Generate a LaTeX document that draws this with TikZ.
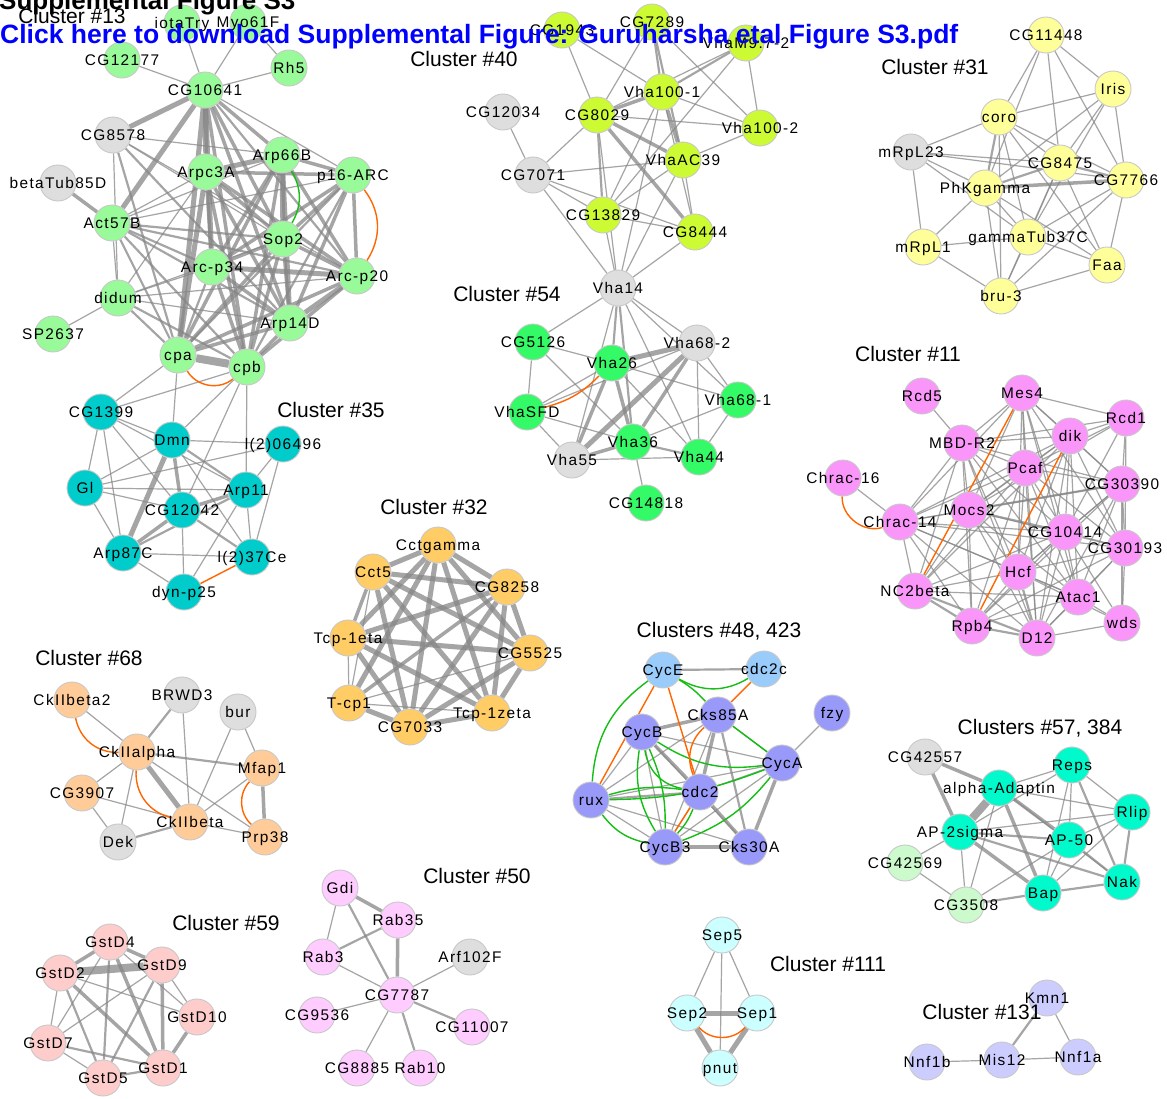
\documentclass[tikz,border=0pt]{standalone}
\usepackage{fontspec}
\setmainfont{Liberation Sans}
\newfontfamily\lbfam[LetterSpace=9]{Liberation Sans}
\newcommand\lbf{\lbfam\fontsize{15.4}{15.4}\selectfont}
\newcommand\ttf{\fontsize{21}{21}\selectfont}
\pgfdeclarelayer{bg}
\pgfsetlayers{bg,main}
\definecolor{cA}{RGB}{153,250,153}
\definecolor{gr}{RGB}{222,222,222}
\definecolor{cB}{RGB}{204,250,51}
\definecolor{cC}{RGB}{255,255,153}
\definecolor{cD}{RGB}{51,250,102}
\definecolor{cE}{RGB}{250,150,250}
\definecolor{cF}{RGB}{0,204,204}
\definecolor{cG}{RGB}{255,204,102}
\definecolor{cH}{RGB}{255,204,153}
\definecolor{cI}{RGB}{153,153,250}
\definecolor{cJ}{RGB}{153,204,250}
\definecolor{cK}{RGB}{0,250,204}
\definecolor{cL}{RGB}{204,250,204}
\definecolor{cM}{RGB}{255,204,204}
\definecolor{cN}{RGB}{255,204,255}
\definecolor{cO}{RGB}{204,255,255}
\definecolor{cP}{RGB}{204,204,255}
\definecolor{ec}{RGB}{135,135,135}
\definecolor{bd}{RGB}{200,200,200}
\definecolor{ogc}{RGB}{255,102,0}
\definecolor{gnc}{RGB}{20,190,20}
\tikzset{
  nd/.style={circle, draw=bd, line width=0.9pt, minimum size=36pt, inner sep=0pt},
  lb/.style={font=\lbf, anchor=base, inner sep=0pt, text=black},
  ttl/.style={font=\ttf, anchor=base, inner sep=0pt},
  e1/.style={draw=ec, line width=1.2pt, draw opacity=0.75},
  e2/.style={draw=ec, line width=2.2pt, draw opacity=0.75},
  e3/.style={draw=ec, line width=3.5pt, draw opacity=0.75},
  e4/.style={draw=ec, line width=5pt, draw opacity=0.75},
  e5/.style={draw=ec, line width=8pt, draw opacity=0.75},
  og/.style={draw=ogc, line width=1.4pt},
  gn/.style={draw=gnc, line width=1.4pt}
}
\makeatletter
\newcommand\lablist{}
\newcommand\GN[4]{\node[nd,fill=#3] (#1) at (#2) {};\g@addto@macro\lablist{\node[lb] at ([yshift=-5.5pt]#1) {#4};}}
\makeatother
\newcommand\EE[2]{\foreach \pa/\pb in {#2}{\draw[#1] (\pa) -- (\pb);}}
\begin{document}
\begin{tikzpicture}[x=1pt,y=1pt]
\useasboundingbox (0,0) rectangle (1167,-1098);
% ---------- Cluster 13
\GN{iota}{182,-23}{cA}{iotaTry}
\GN{myo}{248,-22}{cA}{Myo61F}
\GN{c12177}{122,-60}{cA}{CG12177}
\GN{rh5}{289,-68}{cA}{Rh5}
\GN{c10641}{205,-90}{cA}{CG10641}
\GN{c8578}{113,-135}{gr}{CG8578}
\GN{btub}{58,-183}{gr}{betaTub85D}
\GN{arpc3a}{206,-172}{cA}{Arpc3A}
\GN{arp66b}{282,-155}{cA}{Arp66B}
\GN{p16}{353,-175}{cA}{p16-ARC}
\GN{act57b}{112,-223}{cA}{Act57B}
\GN{sop2}{283,-239}{cA}{Sop2}
\GN{p34}{212,-267}{cA}{Arc-p34}
\GN{p20}{357,-276}{cA}{Arc-p20}
\GN{didum}{118,-298}{cA}{didum}
\GN{arp14d}{290,-323}{cA}{Arp14D}
\GN{sp2637}{53,-334}{cA}{SP2637}
\GN{cpa}{178,-355}{cA}{cpa}
\GN{cpb}{247,-367}{cA}{cpb}
% ---------- Cluster 35
\GN{c1399}{101,-412}{cF}{CG1399}
\GN{dmn}{172,-440}{cF}{Dmn}
\GN{l206496}{283,-444}{cF}{l(2)06496}
\GN{gl}{85,-488}{cF}{Gl}
\GN{arp11}{246,-490}{cF}{Arp11}
\GN{c12042}{182,-510}{cF}{CG12042}
\GN{arp87c}{123,-553}{cF}{Arp87C}
\GN{l237ce}{252,-557}{cF}{l(2)37Ce}
\GN{dynp25}{184,-592}{cF}{dyn-p25}
% ---------- Cluster 40
\GN{c1943}{562,-30}{cB}{CG1943}
\GN{c7289}{652,-22}{cB}{CG7289}
\GN{vham}{746,-43}{cB}{VhaM9.7-2}
\GN{v1001}{662,-92}{cB}{Vha100-1}
\GN{c12034}{503,-112}{gr}{CG12034}
\GN{c8029}{597,-115}{cB}{CG8029}
\GN{v1002}{760,-128}{cB}{Vha100-2}
\GN{vac39}{683,-160}{cB}{VhaAC39}
\GN{c7071}{533,-175}{gr}{CG7071}
\GN{c13829}{603,-215}{cB}{CG13829}
\GN{c8444}{695,-232}{cB}{CG8444}
% ---------- Cluster 54
\GN{vha14}{618,-288}{gr}{Vha14}
\GN{c5126}{533,-342}{cD}{CG5126}
\GN{vha26}{612,-363}{cD}{Vha26}
\GN{vha682}{697,-343}{gr}{Vha68-2}
\GN{vsfd}{527,-412}{cD}{VhaSFD}
\GN{vha681}{738,-400}{cD}{Vha68-1}
\GN{vha36}{633,-442}{cD}{Vha36}
\GN{vha55}{572,-460}{gr}{Vha55}
\GN{vha44}{699,-457}{cD}{Vha44}
\GN{c14818}{646,-503}{cD}{CG14818}
% ---------- Cluster 31
\GN{c11448}{1046,-35}{cC}{CG11448}
\GN{iris}{1113,-89}{cC}{Iris}
\GN{coro}{999,-117}{cC}{coro}
\GN{mrpl23}{911,-152}{gr}{mRpL23}
\GN{c8475}{1060,-163}{cC}{CG8475}
\GN{c7766}{1126,-180}{cC}{CG7766}
\GN{phk}{985,-188}{cC}{PhKgamma}
\GN{gtub}{1028,-237}{cC}{gammaTub37C}
\GN{mrpl1}{923,-247}{cC}{mRpL1}
\GN{faa}{1107,-265}{cC}{Faa}
\GN{bru3}{1001,-296}{cC}{bru-3}
% ---------- Cluster 11
\GN{rcd5}{922,-396}{cE}{Rcd5}
\GN{mes4}{1022,-393}{cE}{Mes4}
\GN{rcd1}{1126,-418}{cE}{Rcd1}
\GN{mbdr2}{962,-443}{cE}{MBD-R2}
\GN{dik}{1070,-436}{cE}{dik}
\GN{pcaf}{1025,-468}{cE}{Pcaf}
\GN{chr16}{843,-478}{cE}{Chrac-16}
\GN{c30390}{1122,-484}{cE}{CG30390}
\GN{chr14}{900,-522}{cE}{Chrac-14}
\GN{mocs2}{969,-510}{cE}{Mocs2}
\GN{c10414}{1065,-532}{cE}{CG10414}
\GN{c30193}{1125,-548}{cE}{CG30193}
\GN{hcf}{1018,-572}{cE}{Hcf}
\GN{nc2b}{915,-591}{cE}{NC2beta}
\GN{atac1}{1078,-597}{cE}{Atac1}
\GN{rpb4}{972,-626}{cE}{Rpb4}
\GN{wds}{1122,-623}{cE}{wds}
\GN{d12}{1037,-638}{cE}{D12}
% ---------- Cluster 32
\GN{cctg}{438,-545}{cG}{Cctgamma}
\GN{cct5}{373,-572}{cG}{Cct5}
\GN{c8258}{507,-587}{cG}{CG8258}
\GN{tcpeta}{348,-638}{cG}{Tcp-1eta}
\GN{c5525}{530,-653}{cG}{CG5525}
\GN{tcp1}{349,-703}{cG}{T-cp1}
\GN{tcpz}{492,-713}{cG}{Tcp-1zeta}
\GN{c7033}{410,-727}{cG}{CG7033}
% ---------- Cluster 68
\GN{ckb2}{72,-700}{cH}{CkIIbeta2}
\GN{brwd3}{182,-695}{gr}{BRWD3}
\GN{bur}{238,-712}{gr}{bur}
\GN{cka}{137,-752}{cH}{CkIIalpha}
\GN{mfap1}{262,-768}{cH}{Mfap1}
\GN{c3907}{82,-793}{cH}{CG3907}
\GN{ckb}{190,-822}{cH}{CkIIbeta}
\GN{dek}{118,-842}{gr}{Dek}
\GN{prp38}{265,-837}{cH}{Prp38}
% ---------- Clusters 48, 423
\GN{cyce}{663,-670}{cJ}{CycE}
\GN{cdc2c}{764,-669}{cJ}{cdc2c}
\GN{fzy}{832,-713}{cI}{fzy}
\GN{cks85a}{718,-715}{cI}{Cks85A}
\GN{cycb}{642,-732}{cI}{CycB}
\GN{cyca}{782,-763}{cI}{CycA}
\GN{rux}{591,-800}{cI}{rux}
\GN{cdc2}{700,-792}{cI}{cdc2}
\GN{cycb3}{665,-847}{cI}{CycB3}
\GN{cks30a}{749,-847}{cI}{Cks30A}
% ---------- Clusters 57, 384
\GN{c42557}{925,-757}{gr}{CG42557}
\GN{reps}{1072,-765}{cK}{Reps}
\GN{aad}{999,-788}{cK}{alpha-Adaptin}
\GN{rlip}{1132,-812}{cK}{Rlip}
\GN{ap2s}{960,-832}{cK}{AP-2sigma}
\GN{ap50}{1069,-840}{cK}{AP-50}
\GN{c42569}{905,-863}{cL}{CG42569}
\GN{nak}{1122,-882}{cK}{Nak}
\GN{bap}{1043,-893}{cK}{Bap}
\GN{c3508}{966,-905}{cL}{CG3508}
% ---------- Cluster 59
\GN{d4}{110,-942}{cM}{GstD4}
\GN{d2}{60,-973}{cM}{GstD2}
\GN{d9}{162,-965}{cM}{GstD9}
\GN{d10}{197,-1017}{cM}{GstD10}
\GN{d7}{48,-1043}{cM}{GstD7}
\GN{d1}{163,-1068}{cM}{GstD1}
\GN{d5}{103,-1078}{cM}{GstD5}
% ---------- Cluster 50
\GN{gdi}{340,-888}{cN}{Gdi}
\GN{rab35}{398,-920}{cN}{Rab35}
\GN{rab3}{323,-957}{cN}{Rab3}
\GN{arf}{470,-957}{gr}{Arf102F}
\GN{c7787}{397,-995}{cN}{CG7787}
\GN{c9536}{317,-1015}{cN}{CG9536}
\GN{c11007}{472,-1027}{cN}{CG11007}
\GN{c8885}{357,-1068}{cN}{CG8885}
\GN{rab10}{420,-1068}{cN}{Rab10}
% ---------- Cluster 111
\GN{sep5}{722,-935}{cO}{Sep5}
\GN{sep2}{687,-1013}{cO}{Sep2}
\GN{sep1}{757,-1013}{cO}{Sep1}
\GN{pnut}{720,-1068}{cO}{pnut}
% ---------- Cluster 131
\GN{kmn1}{1047,-998}{cP}{Kmn1}
\GN{nnf1b}{927,-1062}{cP}{Nnf1b}
\GN{mis12}{1002,-1060}{cP}{Mis12}
\GN{nnf1a}{1078,-1057}{cP}{Nnf1a}
% ================= edges
\begin{pgfonlayer}{bg}
\fill[white] (0,0) rectangle (1167,-1098);
% cluster 13
\EE{e1}{iota/c10641,myo/c10641,myo/rh5,c12177/c10641,rh5/c10641,c10641/p16,didum/sp2637,c8578/arp66b,c8578/sop2,c8578/didum,c8578/p20,act57b/arpc3a,act57b/arp66b,act57b/didum,act57b/p16,arpc3a/didum,sop2/didum,p34/didum,p20/didum,arp14d/didum,cpa/c1399,cpa/dmn,cpb/c1399,cpb/dmn,cpb/c12042,cpb/arp11}
\EE{e2}{c10641/p20,c8578/cpa,c8578/arp14d,act57b/sop2,act57b/p34,act57b/p20,act57b/arp14d,act57b/cpa,act57b/cpb,p16/cpa,p16/cpb,p34/cpa,cpa/didum,cpb/didum}
\EE{e3}{btub/act57b,c10641/arp66b,c10641/sop2,c10641/arp14d,c10641/cpb,arpc3a/p16,arpc3a/sop2,arpc3a/p34,arpc3a/p20,arpc3a/arp14d,arpc3a/cpb,arp66b/p16,arp66b/p34,arp66b/p20,arp66b/cpa,arp66b/cpb,p16/sop2,p16/p34,p16/p20,p16/arp14d,sop2/p34,sop2/p20,sop2/arp14d,sop2/cpa,sop2/cpb,p34/arp14d,p34/cpb,p20/cpa,p20/cpb,arp14d/cpa,arp14d/cpb}
\EE{e4}{c10641/c8578,c10641/act57b,c10641/arpc3a,c10641/p34,c10641/cpa,arpc3a/arp66b,arpc3a/cpa,arp66b/sop2,arp66b/arp14d,p34/p20,p20/arp14d}
\EE{e5}{cpa/cpb}
\draw[gn] (arp66b) to[bend left=30] (sop2);
\draw[og] (p16) to[bend left=35] (p20);
\draw[og] (cpa) to[bend right=50] (cpb);
% cluster 35
\EE{e1}{c1399/dmn,c1399/gl,c1399/arp87c,c1399/c12042,c1399/arp11,dmn/l206496,dmn/gl,dmn/l237ce,gl/arp11,gl/l206496,gl/arp87c,arp11/l206496,arp11/l237ce,arp11/dynp25,c12042/dynp25,arp87c/l237ce,arp87c/dynp25,l206496/l237ce,gl/c12042}
\EE{e2}{dmn/arp11,c12042/l237ce,arp11/arp87c}
\EE{e3}{dmn/c12042,arp11/c12042,c12042/arp87c}
\EE{e4}{dmn/arp87c}
\draw[og] (l237ce) -- (dynp25);
% cluster 40
\EE{e1}{c1943/c8029,c1943/v1001,c7289/c8029,c7289/v1002,vham/c8029,vham/v1002,vham/c13829,v1001/v1002,v1001/c13829,v1001/c8444,c8029/v1002,c8029/c7071,c12034/c7071,c7071/vac39,c7071/c13829,c7071/c8444,vac39/v1002,vac39/c13829,vac39/c8444,c13829/c8444,c7071/vha14,c13829/vha14,c8444/vha14,vac39/vha14,v1001/vha14,c8029/vha14}
\EE{e2}{c7289/v1001,vham/v1001,c8029/c13829,c7289/vac39}
\EE{e3}{v1001/vac39,v1001/c8029,c8029/vac39,c8029/c8444}
% cluster 54
\EE{e1}{vha14/c5126,vha14/vha682,vha14/vha681,vha14/vha44,vha14/vha55,c5126/vha26,c5126/vsfd,c5126/vha36,vha26/vha681,vha26/vha44,vha682/vsfd,vha682/vha44,vha682/vha681,vsfd/vha55,vsfd/vha36,vha681/vha36,vha681/vha44,vha36/c14818,vha55/vha44,vha26/vsfd}
\EE{e2}{vha14/vha26,vha14/vha36,vha36/vha44}
\EE{e3}{vha26/vha36,vha26/vha55,vha36/vha55,vha682/vha36}
\EE{e4}{vha26/vha682,vha682/vha55}
\draw[og] (vsfd) to[bend right=15] (vha26);
% cluster 31
\EE{e1}{c11448/coro,c11448/c8475,c11448/iris,c11448/c7766,c11448/phk,iris/coro,iris/c7766,iris/c8475,iris/phk,iris/gtub,coro/mrpl23,coro/c8475,coro/c7766,coro/gtub,coro/faa,coro/bru3,mrpl23/c8475,mrpl23/c7766,mrpl23/phk,mrpl23/mrpl1,mrpl23/gtub,c8475/gtub,c8475/faa,c8475/bru3,c7766/gtub,c7766/faa,c7766/bru3,phk/gtub,phk/mrpl1,phk/bru3,phk/faa,gtub/mrpl1,gtub/bru3,gtub/faa,mrpl1/bru3,faa/bru3}
\EE{e2}{coro/phk,c8475/c7766,c8475/phk}
\EE{e3}{c7766/phk}
% cluster 11
\EE{e1}{rcd5/mbdr2,chr16/chr14,mes4/mbdr2,mes4/dik,mes4/rcd1,mes4/pcaf,mes4/mocs2,mes4/c30390,mes4/c10414,mes4/hcf,mes4/atac1,mes4/c30193,mes4/chr14,mes4/d12,rcd1/dik,rcd1/mbdr2,rcd1/pcaf,rcd1/c30390,rcd1/c30193,rcd1/c10414,rcd1/mocs2,mbdr2/dik,mbdr2/pcaf,mbdr2/mocs2,mbdr2/chr14,mbdr2/nc2b,mbdr2/rpb4,mbdr2/hcf,mbdr2/c30390,mbdr2/c10414,mbdr2/atac1,mbdr2/d12,dik/pcaf,dik/mocs2,dik/c30390,dik/c10414,dik/c30193,dik/hcf,dik/atac1,dik/d12,dik/chr14,dik/nc2b,pcaf/mocs2,pcaf/c30390,pcaf/c10414,pcaf/chr14,pcaf/hcf,pcaf/atac1,pcaf/rpb4,pcaf/d12,pcaf/nc2b,pcaf/c30193,c30390/c10414,c30390/c30193,c30390/hcf,c30390/atac1,c30390/wds,c30390/rpb4,c30390/d12,c30390/chr14,chr14/mocs2,chr14/nc2b,chr14/rpb4,chr14/d12,chr14/hcf,chr14/c10414,chr14/atac1,chr14/c30193,mocs2/hcf,mocs2/nc2b,mocs2/rpb4,mocs2/d12,mocs2/atac1,mocs2/c30193,c10414/c30193,c10414/hcf,c10414/atac1,c10414/rpb4,c10414/d12,c10414/nc2b,c10414/wds,c30193/hcf,c30193/atac1,c30193/wds,c30193/rpb4,c30193/d12,hcf/nc2b,hcf/atac1,hcf/rpb4,hcf/wds,nc2b/atac1,atac1/rpb4,atac1/d12,atac1/wds,wds/d12}
\EE{e2}{c30390/mocs2,mocs2/c10414,hcf/d12,nc2b/rpb4,nc2b/d12,rpb4/d12}
\draw[og] (mes4) -- (nc2b);
\draw[og] (dik) -- (rpb4);
\draw[og] (chr16) to[bend right=55] (chr14);
% cluster 32
\EE{e4}{cctg/cct5,cctg/c8258,cctg/tcpeta,cctg/c5525,cctg/tcp1,cctg/tcpz,cctg/c7033,cct5/c8258,cct5/c5525,cct5/tcpz,cct5/c7033,c8258/tcpeta,c8258/c5525,c8258/tcpz,c8258/c7033,tcpeta/c5525,tcpeta/tcpz,tcpeta/c7033,c5525/tcpz,c5525/c7033,tcp1/c7033,tcpz/c7033}
\EE{e3}{cct5/tcpeta,c8258/tcp1}
\EE{e1}{cct5/tcp1,tcpeta/tcp1,tcp1/c5525,tcp1/tcpz}
% cluster 68
\EE{e1}{ckb2/cka,brwd3/ckb,bur/mfap1,bur/ckb,cka/c3907,cka/dek,cka/prp38,c3907/dek,c3907/ckb,ckb/mfap1,ckb/prp38}
\EE{e2}{brwd3/cka,cka/mfap1,ckb/dek}
\EE{e3}{mfap1/prp38}
\EE{e4}{cka/ckb}
\draw[og] (ckb2) to[bend right=40] (cka);
\draw[og] (cka) to[bend right=40] (ckb);
\draw[og] (mfap1) to[bend right=45] (prp38);
% clusters 48, 423
\EE{e1}{fzy/cyca,cycb/cyca,cycb/cks30a,cycb/rux,cycb/cycb3,cks85a/cycb3,cks85a/rux,cks85a/cyca,cyca/cdc2,cyca/rux,cyca/cycb3,rux/cks30a,rux/cycb3,cdc2/cycb3}
\EE{e2}{cyce/cdc2c,rux/cdc2,cks85a/cks30a}
\EE{e3}{cycb/cks85a,cycb/cdc2,cks85a/cdc2,cyca/cks30a,cdc2/cks30a,cycb3/cks30a}
\draw[gn] (cyce) to[bend right=25] (rux);
\draw[gn] (cyce) to[bend right=30] (cdc2c);
\draw[gn] (cyce) to[bend left=8] (cks85a);
\draw[gn] (cks85a) -- (cyca);
\draw[gn] (cycb) to[bend right=20] (cyca);
\draw[gn] (cycb) to[bend right=35] (cdc2);
\draw[gn] (cycb) to[bend right=20] (cycb3);
\draw[gn] (cycb) to[bend left=12] (cycb3);
\draw[gn] (rux) to[bend right=20] (cycb3);
\draw[gn] (rux) to[bend right=10] (cyca);
\draw[gn] (rux) to[bend left=12] (cdc2);
\draw[gn] (cyca) to[bend left=15] (cycb3);
\draw[gn] (cdc2) to[bend left=10] (cycb3);
\draw[og] (cyce) -- (rux);
\draw[og] (cyce) -- (cdc2);
\draw[og] (cdc2c) -- (cks85a);
\draw[og] (cks85a) to[bend right=35] (cdc2);
\draw[og] (cdc2) -- (cycb3);
% clusters 57, 384
\EE{e1}{aad/reps,aad/rlip,aad/c3508,reps/ap2s,reps/rlip,reps/ap50,reps/bap,rlip/ap2s,rlip/ap50,rlip/bap,ap2s/c42569,ap2s/c3508,ap50/bap,ap50/c3508,c42569/c3508,aad/nak}
\EE{e2}{reps/nak,rlip/nak,ap2s/ap50,ap2s/nak,ap50/nak,c3508/bap,bap/nak}
\EE{e3}{c42557/aad,c42557/ap2s,aad/ap50,aad/bap,ap2s/bap}
\EE{e5}{aad/ap2s}
% cluster 59
\EE{e1}{d4/d7,d4/d10,d2/d7,d2/d10,d9/d10,d9/d7,d7/d5}
\EE{e2}{d7/d1,d5/d1,d9/d5,d4/d5,d2/d5}
\EE{e3}{d10/d1,d4/d2,d4/d9,d4/d1,d2/d1,d9/d1}
\EE{e5}{d2/d9}
% cluster 50
\EE{e1}{gdi/rab3,rab3/c7787,c7787/arf,c7787/c9536,c7787/c8885}
\EE{e2}{c7787/c11007,c7787/rab10,rab35/rab3,gdi/c7787}
\EE{e3}{gdi/rab35,rab35/c7787}
% cluster 111
\EE{e1}{sep5/sep2,sep5/sep1,sep5/pnut}
\EE{e4}{sep2/sep1,sep2/pnut,sep1/pnut}
\draw[og] (sep2) to[bend right=50] (sep1);
% cluster 131
\EE{e1}{nnf1b/mis12,mis12/nnf1a,kmn1/nnf1a}
\EE{e2}{mis12/kmn1}
\end{pgfonlayer}
% ================= titles
\node[ttl] (t13) at (72,-23) {Cluster \#13};
\node[ttl] (t40) at (464,-66) {Cluster \#40};
\node[ttl] (t31) at (935,-74) {Cluster \#31};
\node[ttl] (t54) at (507,-301) {Cluster \#54};
\node[ttl] (t11) at (908,-361) {Cluster \#11};
\node[ttl] (t35) at (331,-417) {Cluster \#35};
\node[ttl] (t32) at (434,-514) {Cluster \#32};
\node[ttl] (t68) at (89,-665) {Cluster \#68};
\node[ttl] (t48) at (719,-637) {Clusters \#48, 423};
\node[ttl] (t57) at (1040,-734) {Clusters \#57, 384};
\node[ttl] (t50) at (477,-883) {Cluster \#50};
\node[ttl] (t59) at (226,-930) {Cluster \#59};
\node[ttl] (t111) at (828,-971) {Cluster \#111};
\node[ttl] (t131) at (982,-1019) {Cluster \#131};
% ================= labels
\lablist
% ================= header
\node[anchor=base west, inner sep=0pt, font=\fontsize{26}{26}\selectfont\bfseries] (hd) at (-1,-9) {Supplemental Figure S3};
\node[anchor=base west, inner sep=0pt, text={rgb,255:red,0;green,0;blue,255}, font=\fontsize{26.5}{26.5}\selectfont\bfseries] (lnk) at (0,-43) {Click here to download Supplemental Figure: Guruharsha etal Figure S3.pdf};
\end{tikzpicture}
\end{document}
